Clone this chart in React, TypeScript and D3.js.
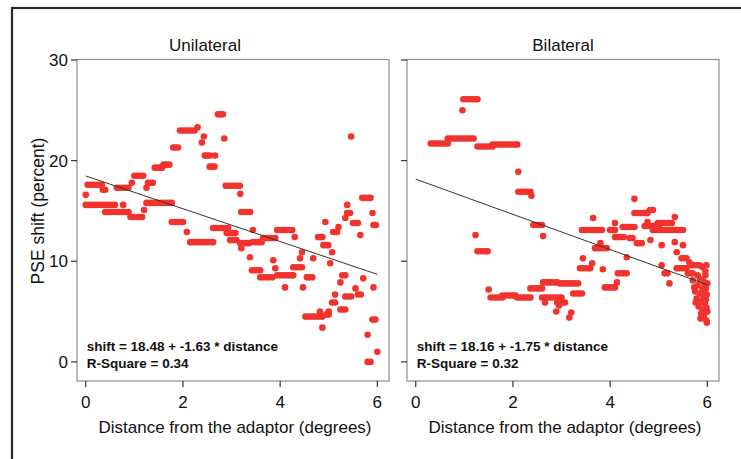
import React from "react";
import * as d3 from "d3";

// ---- data ----
const panelTitles = ["Unilateral", "Bilateral"];
const xTicks = [0, 2, 4, 6];
const yTicks = [0, 10, 20, 30];
const equations = ["shift = 18.48 + -1.63 * distance", "shift = 18.16 + -1.75 * distance"];
const rSquares = ["R-Square = 0.34", "R-Square = 0.32"];
const intercepts = [18.48, 18.16];
const slopes = [-1.63, -1.75];

const unilateralPoints: [number, number][] = [
  [0.04, 17.6], [0.1, 17.6], [0.16, 17.6], [0.22, 17.6], [0.28, 17.6], [0.33, 17.6],
  [0.0, 16.6], [0.35, 17.1], [0.4, 17.1],
  [0.64, 17.3], [0.7, 17.3], [0.76, 17.3], [0.82, 17.3], [0.88, 17.3],
  [0.95, 17.8], [1.0, 18.5], [1.06, 18.5], [1.12, 18.5], [1.18, 18.5],
  [1.25, 17.3], [1.28, 17.8], [1.33, 17.8], [1.38, 17.8],
  [1.42, 19.3], [1.48, 19.3], [1.54, 19.3], [1.57, 19.3],
  [1.6, 19.6], [1.66, 19.6], [1.72, 19.6],
  [1.8, 21.3], [1.85, 21.3], [1.9, 21.3],
  [1.94, 23.0], [2.0, 23.0], [2.06, 23.0], [2.12, 23.0], [2.18, 23.0], [2.24, 23.0],
  [2.3, 23.3], [2.43, 22.4], [2.39, 21.8],
  [2.72, 24.6], [2.77, 24.6], [2.82, 24.6], [2.85, 22.2],
  [2.45, 20.5], [2.5, 20.5], [2.55, 20.5], [2.66, 20.5],
  [2.55, 19.4], [2.6, 19.4], [2.65, 19.4],
  [2.88, 17.5], [2.94, 17.5], [3.0, 17.5], [3.06, 17.5], [3.12, 17.5], [3.17, 17.5],
  [3.18, 16.7],
  [0.0, 15.6], [0.06, 15.6], [0.12, 15.6], [0.18, 15.6], [0.24, 15.6], [0.3, 15.6],
  [0.36, 15.6], [0.42, 15.6], [0.48, 15.6], [0.54, 15.6], [0.6, 15.6],
  [0.4, 14.9], [0.46, 14.9], [0.52, 14.9], [0.58, 14.9], [0.64, 14.9], [0.7, 14.9],
  [0.76, 14.9], [0.82, 14.9], [0.88, 14.9], [0.77, 15.6],
  [0.92, 14.4], [0.98, 14.4], [1.04, 14.4], [1.1, 14.4], [1.16, 14.4],
  [1.2, 15.1],
  [1.25, 15.8], [1.31, 15.8], [1.37, 15.8], [1.43, 15.8], [1.49, 15.8], [1.55, 15.8],
  [1.61, 15.8], [1.67, 15.8], [1.73, 15.8], [1.77, 15.8],
  [1.77, 13.9], [1.83, 13.9], [1.89, 13.9], [1.95, 13.9], [2.0, 13.9],
  [2.08, 12.9],
  [2.15, 11.9], [2.21, 11.9], [2.27, 11.9], [2.33, 11.9], [2.39, 11.9], [2.45, 11.9],
  [2.51, 11.9], [2.57, 11.9], [2.62, 11.9],
  [2.62, 13.3], [2.68, 13.3], [2.74, 13.3], [2.8, 13.3], [2.86, 13.3], [2.93, 13.3],
  [2.9, 12.8], [2.96, 12.8], [3.02, 12.8], [3.08, 12.8],
  [2.97, 12.1], [3.03, 12.1], [3.1, 12.1],
  [3.18, 11.8], [3.24, 11.8], [3.3, 11.8], [3.36, 11.8],
  [3.2, 11.3], [3.38, 10.4], [3.44, 13.1],
  [3.44, 11.9], [3.5, 11.9], [3.56, 11.9], [3.62, 11.9],
  [3.2, 14.9], [3.26, 14.9], [3.32, 14.9], [3.38, 14.9],
  [3.42, 9.1], [3.48, 9.1], [3.54, 9.1], [3.59, 9.1],
  [3.59, 8.4], [3.65, 8.4], [3.71, 8.4], [3.77, 8.4], [3.84, 8.4],
  [3.65, 12.3], [3.71, 12.3], [3.77, 12.3], [3.83, 12.3], [3.9, 12.3],
  [3.86, 10.1], [3.9, 9.3],
  [3.94, 8.6], [4.0, 8.6], [4.06, 8.6], [4.12, 8.6], [4.18, 8.6], [4.24, 8.6], [4.27, 8.6],
  [3.94, 13.1], [4.0, 13.1], [4.06, 13.1], [4.12, 13.1], [4.18, 13.1], [4.25, 13.1],
  [4.3, 12.4], [4.1, 7.4],
  [4.27, 9.4], [4.33, 9.4], [4.39, 9.4], [4.45, 9.4],
  [4.41, 10.3], [4.45, 10.9], [4.47, 7.4],
  [4.55, 8.4], [4.6, 8.4], [4.66, 8.4], [4.68, 10.3],
  [4.78, 12.4], [4.83, 12.4], [4.87, 12.4],
  [4.89, 11.6], [4.94, 11.6], [4.99, 11.6], [4.93, 13.9],
  [5.07, 10.9], [5.03, 9.8],
  [4.52, 4.5], [4.58, 4.5], [4.64, 4.5], [4.7, 4.5], [4.76, 4.5], [4.82, 4.5], [4.87, 4.5],
  [4.82, 5.0], [4.87, 3.4], [4.95, 4.7], [5.0, 4.7], [5.0, 5.0],
  [5.09, 12.9], [5.13, 12.9], [5.17, 12.9], [5.2, 13.4],
  [5.07, 5.9], [5.13, 5.9], [5.13, 6.7], [5.24, 7.9],
  [5.28, 8.6], [5.34, 8.6],
  [5.24, 5.2], [5.29, 5.2], [5.34, 5.2],
  [5.34, 14.3], [5.38, 15.6], [5.38, 14.8], [5.44, 14.8],
  [5.34, 6.5], [5.4, 6.5], [5.46, 6.5],
  [5.5, 13.8], [5.55, 13.8], [5.6, 13.8], [5.55, 7.3],
  [5.6, 6.7], [5.66, 6.7], [5.65, 12.6],
  [5.69, 16.3], [5.75, 16.3], [5.81, 16.3], [5.86, 16.3],
  [5.71, 8.3], [5.9, 14.8], [5.92, 13.6], [5.97, 13.6], [5.92, 7.4],
  [5.9, 4.2], [5.96, 4.2], [5.8, 2.7], [6.0, 1.0], [5.8, 0.0], [5.86, 0.0],
  [5.46, 22.4],
];

const bilateralPoints: [number, number][] = [
  [0.31, 21.7], [0.37, 21.7], [0.43, 21.7], [0.49, 21.7], [0.55, 21.7], [0.61, 21.7], [0.66, 21.7],
  [0.66, 22.2], [0.72, 22.2], [0.78, 22.2], [0.84, 22.2], [0.9, 22.2], [0.96, 22.2],
  [1.02, 22.2], [1.08, 22.2], [1.14, 22.2], [1.19, 22.2],
  [0.98, 26.1], [1.04, 26.1], [1.1, 26.1], [1.16, 26.1], [1.22, 26.1], [1.27, 26.1],
  [0.96, 25.0],
  [1.27, 21.4], [1.33, 21.4], [1.39, 21.4], [1.45, 21.4], [1.51, 21.4], [1.58, 21.4],
  [1.58, 21.6], [1.64, 21.6], [1.7, 21.6], [1.76, 21.6], [1.82, 21.6], [1.88, 21.6],
  [1.94, 21.6], [2.0, 21.6], [2.06, 21.6], [2.09, 21.6],
  [2.11, 18.9],
  [2.11, 16.9], [2.17, 16.9], [2.23, 16.9], [2.29, 16.9], [2.36, 16.9], [2.38, 16.5],
  [2.42, 13.6], [2.48, 13.6], [2.54, 13.6], [2.6, 13.6], [2.62, 12.5],
  [1.23, 12.6], [1.27, 11.0], [1.33, 11.0], [1.39, 11.0], [1.45, 11.0], [1.48, 11.0],
  [1.5, 7.2],
  [1.54, 6.4], [1.6, 6.4], [1.66, 6.4], [1.72, 6.4], [1.78, 6.4],
  [1.78, 6.6], [1.84, 6.6], [1.9, 6.6], [1.96, 6.6], [2.02, 6.6], [2.05, 6.6],
  [2.09, 6.4], [2.15, 6.4], [2.21, 6.4], [2.27, 6.4], [2.33, 6.4], [2.36, 6.4],
  [2.36, 7.3], [2.42, 7.3], [2.48, 7.3], [2.54, 7.3], [2.6, 7.3],
  [2.62, 7.9], [2.68, 7.9], [2.74, 7.9], [2.8, 7.9], [2.86, 7.9], [2.91, 7.9],
  [2.6, 6.4], [2.66, 6.4], [2.72, 6.4], [2.78, 6.4], [2.84, 6.4], [2.9, 6.4], [2.96, 6.4], [3.0, 6.4],
  [2.66, 5.9], [2.91, 5.9], [2.97, 5.9], [3.03, 5.9], [3.07, 5.9], [2.95, 5.6], [2.89, 5.0],
  [2.97, 7.8], [3.03, 7.8], [3.09, 7.8], [3.15, 7.8], [3.21, 7.8], [3.27, 7.8], [3.34, 7.8],
  [3.24, 6.8], [3.3, 6.8], [3.36, 6.8], [3.42, 6.8],
  [3.2, 4.9], [3.16, 4.4],
  [3.44, 10.3], [3.38, 9.3], [3.44, 9.3], [3.5, 9.3], [3.56, 9.3], [3.59, 9.3], [3.63, 9.8],
  [3.42, 13.1], [3.48, 13.1], [3.54, 13.1], [3.6, 13.1], [3.66, 13.1], [3.72, 13.1],
  [3.78, 13.1], [3.83, 13.1], [3.65, 14.3],
  [3.69, 11.3], [3.75, 11.3], [3.81, 11.3], [3.87, 11.3], [3.93, 11.3], [3.8, 11.8],
  [3.85, 9.2],
  [3.89, 7.4], [3.95, 7.4], [4.01, 7.4], [4.07, 7.4], [4.1, 7.4],
  [4.0, 13.1], [4.05, 13.1], [4.1, 13.1], [4.1, 13.8],
  [4.1, 12.4], [4.16, 12.4], [4.22, 12.4], [4.28, 12.4], [4.14, 7.9],
  [4.16, 8.8], [4.22, 8.8], [4.28, 8.8], [4.34, 8.8],
  [4.26, 13.4], [4.32, 13.4], [4.38, 13.4], [4.44, 13.4], [4.5, 13.4],
  [4.34, 10.4], [4.4, 12.3], [4.46, 12.3],
  [4.55, 11.8], [4.6, 11.8], [4.65, 11.8],
  [4.5, 16.2],
  [4.5, 14.8], [4.56, 14.8], [4.62, 14.8], [4.68, 14.8], [4.74, 14.8], [4.77, 14.8],
  [4.71, 13.5], [4.77, 13.5], [4.83, 13.5], [4.89, 13.5], [4.95, 13.5], [5.0, 13.5],
  [4.77, 13.9], [4.82, 15.1], [4.88, 15.1],
  [4.88, 13.1], [4.94, 13.1], [5.0, 13.1], [4.83, 12.1],
  [4.98, 13.8], [5.04, 13.8], [5.1, 13.8], [5.16, 13.8], [5.22, 13.8], [5.27, 13.8],
  [5.06, 13.1], [5.12, 13.1], [5.18, 13.1], [5.24, 13.1], [5.3, 13.1], [5.36, 13.1], [5.39, 13.1],
  [5.06, 11.6], [5.06, 9.6], [5.12, 8.8], [5.18, 8.8], [5.22, 7.8],
  [5.33, 14.4], [5.33, 11.9], [5.37, 10.9],
  [5.44, 13.1], [5.5, 13.1], [5.5, 11.6],
  [5.47, 10.3], [5.52, 10.3], [5.57, 10.3],
  [5.37, 9.3], [5.43, 9.3], [5.49, 9.3], [5.55, 9.3], [5.57, 9.3],
  [5.63, 9.9], [5.67, 9.6], [5.73, 9.6], [5.79, 9.6], [5.84, 9.6],
  [5.6, 8.8], [5.66, 8.8], [5.7, 8.8], [5.7, 8.1], [5.73, 7.4], [5.9, 9.4],
  [5.75, 7.0], [5.78, 6.3], [5.8, 7.6], [5.82, 5.5], [5.84, 6.8], [5.85, 8.2],
  [5.87, 4.8], [5.88, 6.0], [5.9, 7.2], [5.9, 5.2], [5.92, 6.5], [5.92, 8.0],
  [5.93, 4.4], [5.94, 7.6], [5.95, 5.8], [5.95, 6.9], [5.96, 4.9], [5.96, 8.6],
  [5.97, 6.2], [5.97, 7.3], [5.98, 5.4], [5.98, 4.1], [5.99, 6.7], [5.99, 3.9],
  [6.0, 5.0], [6.0, 7.8], [5.96, 9.0], [5.98, 9.6], [5.86, 4.3], [5.8, 8.6], [5.76, 5.9],
];

const seriesPoints = [unilateralPoints, bilateralPoints];

// ---- layout ----
const W = 741;
const H = 459;
const panelTop = 59.5;
const panelBottom = 381;
const panelLefts = [77, 407];
const panelWidth = 312;
const titleCenters = [205, 563];
const font = "'Liberation Sans', Arial, sans-serif";
const red = "#f2332d";

export default function App() {
  const y = d3.scaleLinear().domain([-1.9, 30.05]).range([panelBottom, panelTop]);
  return (
    <svg
      width={W}
      height={H}
      style={{ position: "absolute", left: 0, top: 0, background: "#fff" }}
      fontFamily={font}
    >
      <rect x={0} y={0} width={W} height={H} fill="#fff" />
      <rect x={12} y={8} width={740} height={470} fill="none" stroke="#2a2a2a" strokeWidth={2.2} />
      {[0, 1].map((p) => {
        const left = panelLefts[p];
        const x = d3.scaleLinear().domain([-0.18, 6.24]).range([left, left + panelWidth]);
        const line = d3
          .line<number>()
          .x((d) => x(d))
          .y((d) => y(intercepts[p] + slopes[p] * d));
        const pts = seriesPoints[p];
        return (
          <g key={p}>
            <rect
              x={left}
              y={panelTop}
              width={panelWidth}
              height={panelBottom - panelTop}
              fill="#fff"
              stroke="#8c8c8c"
              strokeWidth={1.2}
            />
            {pts.map((d, i) => (
              <circle key={i} cx={x(d[0])} cy={y(d[1])} r={3.3} fill={red} />
            ))}
            <path d={line([0, 6]) || ""} stroke="#333" strokeWidth={1} fill="none" />
            {yTicks.map((t) => (
              <g key={t}>
                <line x1={left - 6} x2={left} y1={y(t)} y2={y(t)} stroke="#333" strokeWidth={1.2} />
                {p === 0 && (
                  <text x={left - 9} y={y(t)} dy="0.36em" textAnchor="end" fontSize={17} fill="#111">
                    {t}
                  </text>
                )}
              </g>
            ))}
            {xTicks.map((t) => (
              <g key={t}>
                <line x1={x(t)} x2={x(t)} y1={panelBottom} y2={panelBottom + 6} stroke="#333" strokeWidth={1.2} />
                <text x={x(t)} y={panelBottom + 27} textAnchor="middle" fontSize={17} fill="#111">
                  {t}
                </text>
              </g>
            ))}
            <text x={titleCenters[p]} y={51} textAnchor="middle" fontSize={17} fill="#111">
              {panelTitles[p]}
            </text>
            <text x={left + panelWidth / 2 + 2} y={433} textAnchor="middle" fontSize={17} fill="#111">
              Distance from the adaptor (degrees)
            </text>
            <text x={x(0) + 1} y={351} fontSize={13.5} fontWeight="bold" fill="#111">
              {equations[p]}
            </text>
            <text x={x(0) + 1} y={368} fontSize={13.5} fontWeight="bold" fill="#111">
              {rSquares[p]}
            </text>
          </g>
        );
      })}
      <text
        transform={`translate(44, 211) rotate(-90)`}
        textAnchor="middle"
        fontSize={17.5}
        fill="#111"
      >
        PSE shift (percent)
      </text>
    </svg>
  );
}
